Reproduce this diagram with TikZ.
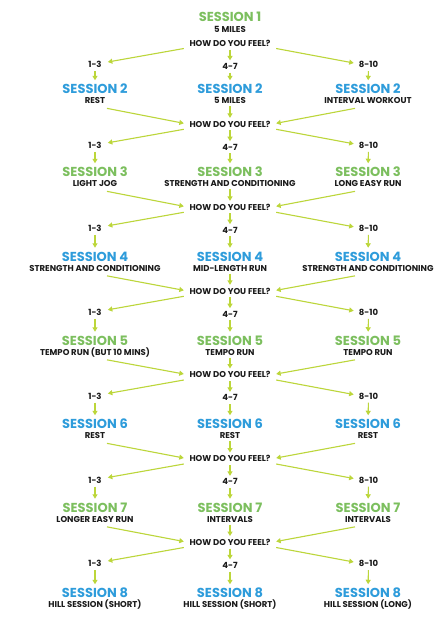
\documentclass[tikz,border=0pt]{standalone}
\usepackage{fontspec}
\setmainfont{Poppins}
\usetikzlibrary{arrows.meta,calc}
\definecolor{grn}{HTML}{7CBF5E}
\definecolor{blu}{HTML}{2E9CDB}
\definecolor{arw}{HTML}{BCD63A}
\definecolor{txt}{HTML}{1A1A1A}
\begin{document}
\begin{tikzpicture}[x=1pt,y=-1pt,
 ttl/.style={font=\bfseries\fontsize{13}{13}\selectfont, inner sep=0pt, text height=9.1pt, text depth=0pt},
 subt/.style={font=\bfseries\fontsize{8.5}{9}\selectfont, text=txt, inner sep=0pt, text height=5.9pt, text depth=0pt},
 ask/.style={subt, inner xsep=5.5pt},
 score/.style={subt},
 arr/.style={draw=arw, line width=1.1pt, -{Triangle[length=4.5pt,width=5pt]}},
]
\fill[white] (0,0) rectangle (440,622);
\useasboundingbox (0,0) rectangle (440,622);

\node[ttl, text=grn] (t1) at (230,17) {SESSION 1};
\node[subt] (s1) at (230,30) {5 MILES};

\foreach \k/\T/\c/\a/\b/\d in {
 2/89/blu/{REST}/{5 MILES}/{INTERVAL WORKOUT},
 3/172/grn/{LIGHT JOG}/{STRENGTH AND CONDITIONING}/{LONG EASY RUN},
 4/256.5/blu/{STRENGTH AND CONDITIONING}/{MID-LENGTH RUN}/{STRENGTH AND CONDITIONING},
 5/340.5/grn/{TEMPO RUN (BUT 10 MINS)}/{TEMPO RUN}/{TEMPO RUN},
 6/424/blu/{REST}/{REST}/{REST},
 7/507.5/grn/{LONGER EASY RUN}/{INTERVALS}/{INTERVALS},
 8/593/blu/{HILL SESSION (SHORT)}/{HILL SESSION (SHORT)}/{HILL SESSION (LONG)}}{
  \node[ttl,text=\c] (tl\k) at (95,\T) {SESSION \k};
  \node[ttl,text=\c] (tm\k) at (230,\T) {SESSION \k};
  \node[ttl,text=\c] (tr\k) at (368,\T) {SESSION \k};
  \node[subt] (sl\k) at (95,\T+12) {\a};
  \node[subt] (sm\k) at (230,\T+12) {\b};
  \node[subt] (sr\k) at (368,\T+12) {\d};
}

\foreach \k/\H in {1/43.5,2/124.3,3/207.3,4/291.3,5/375,6/459,7/542.5}{
  \pgfmathtruncatemacro{\n}{\k+1}
  \node[ask] (h\k) at (230,\H) {HOW DO YOU FEEL?};
  \node[score] (a\k) at (95,\H+21.5) {1-3};
  \node[score] (b\k) at (230,\H+23) {4-7};
  \node[score] (c\k) at (368.5,\H+21.5) {8-10};
  \coordinate (hwi\k) at ($(h\k.west)+(0,-1)$);
  \coordinate (hei\k) at ($(h\k.east)+(0,-1)$);
  \coordinate (hwo\k) at ($(h\k.west)+(0,5)$);
  \coordinate (heo\k) at ($(h\k.east)+(0,5)$);
  \coordinate (at\k) at ($(a\k.east)+(6,-3)$);
  \coordinate (ct\k) at ($(c\k.west)+(-5,-2)$);
  \draw[arr] (hwo\k) -- (at\k);
  \draw[arr] (heo\k) -- (ct\k);
  \draw[arr, shorten <=3pt, shorten >=3pt] (h\k) -- (b\k);
  \draw[arr, shorten <=3pt, shorten >=4pt] (a\k) -- (tl\n);
  \draw[arr, shorten <=3pt, shorten >=4pt] (b\k) -- (tm\n);
  \draw[arr, shorten <=3pt, shorten >=4pt] (c\k) -- (tr\n);
}

\foreach \k in {2,...,7}{
  \coordinate (ls\k) at ($(sl\k.south)+(12,4.2)$);
  \coordinate (rs\k) at ($(sr\k.south)+(-13,4.2)$);
  \draw[arr] (ls\k) -- (hwi\k);
  \draw[arr] (rs\k) -- (hei\k);
  \draw[arr, shorten <=2pt, shorten >=3.3pt] (sm\k) -- (h\k);
}
\end{tikzpicture}
\end{document}
